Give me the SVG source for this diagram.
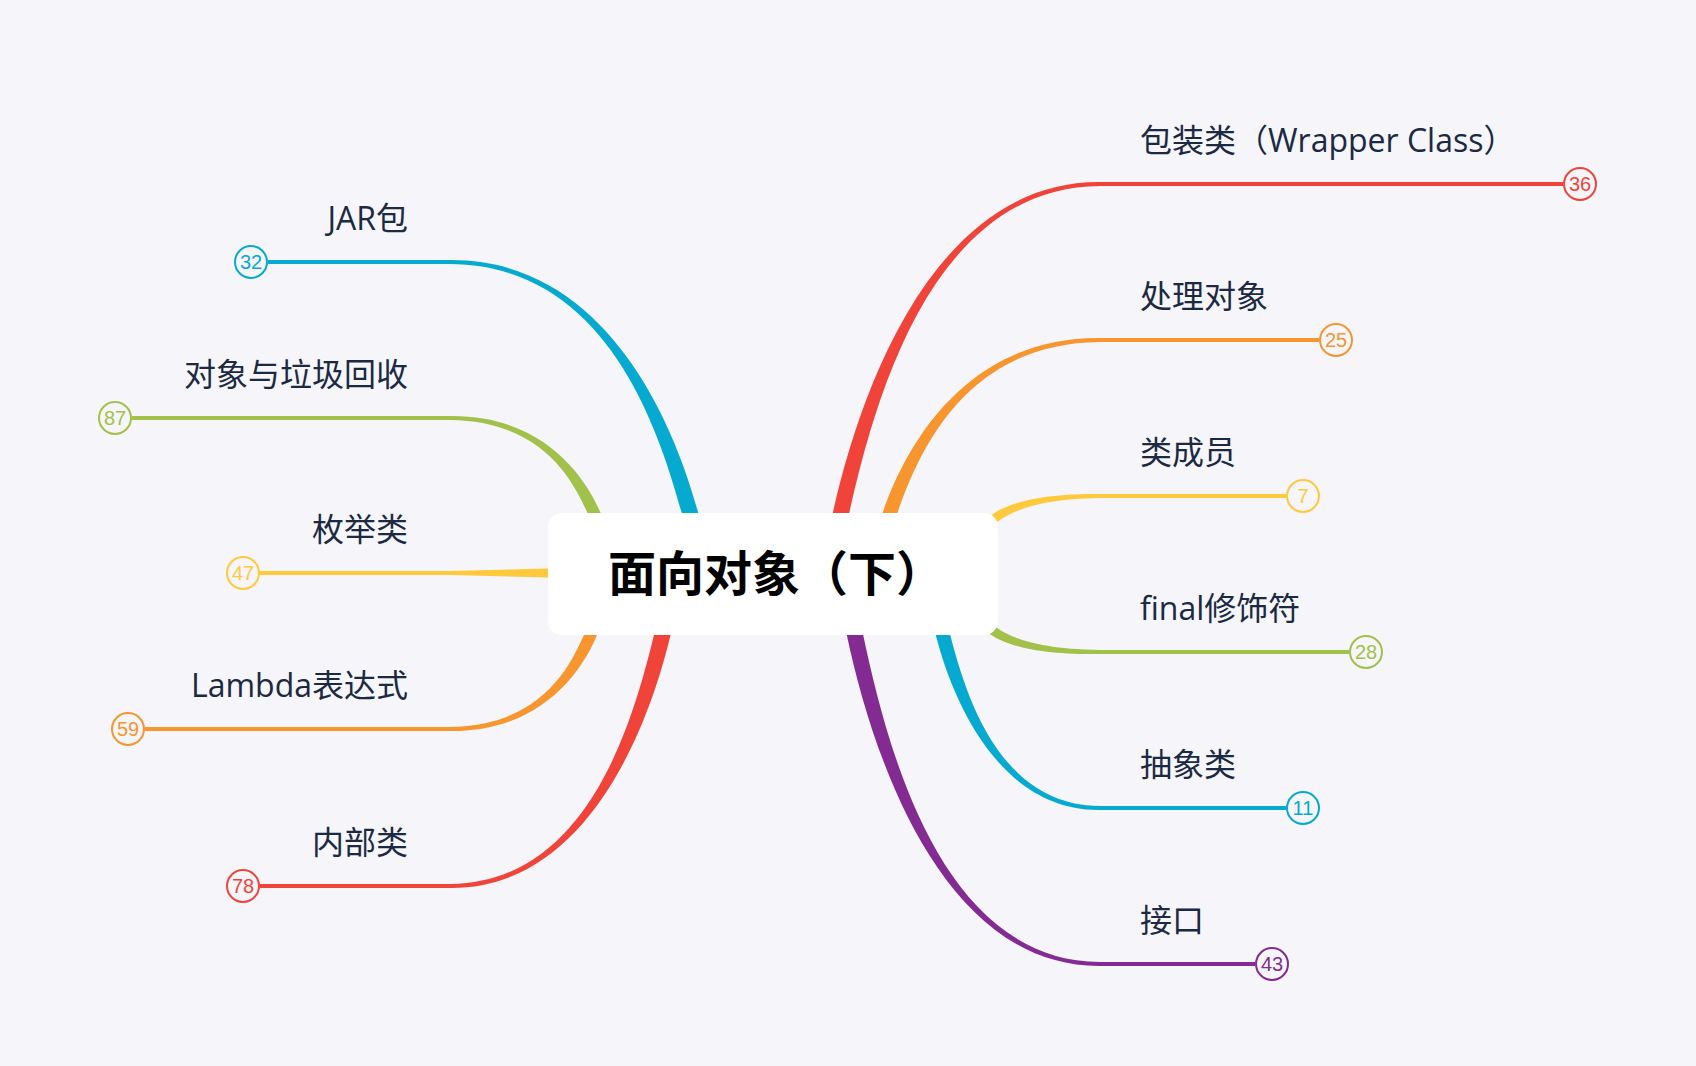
<svg xmlns="http://www.w3.org/2000/svg" width="1696" height="1066" viewBox="0 0 1696 1066">
<style>
.lbl{font-family:"Open Sans","Noto Sans CJK SC",sans-serif;font-size:32px;fill:#1b2a42}
.num{font-family:"Liberation Sans",Arial,sans-serif;font-size:20px;text-anchor:middle}
.ln{stroke-width:4;fill:none}
.cir{stroke-width:2;fill:#f5f5fa}
.red{fill:#f0443a}.orange{fill:#f7952f}.yellow{fill:#fec93b}.green{fill:#a1c14a}.blue{fill:#06aad0}.purple{fill:#832b93}
.sred{stroke:#f0443a}.sorange{stroke:#f7952f}.syellow{stroke:#fec93b}.sgreen{stroke:#a1c14a}.sblue{stroke:#06aad0}.spurple{stroke:#832b93}
</style>
<rect x="0" y="0" width="1696" height="1066" fill="#f5f5fa"/>
<g id="connectors">
<path class="red" d="M845.3,530.4 L848.8,514.8 C874.7,399.6 931.7,187 1100,186 L1100,182 C931.7,181 859.1,396.1 833.2,511.2 L829.7,526.9 Z"/>
<path class="orange" d="M891.4,530.4 L896.6,515.3 C917.6,454.7 963.5,343 1100,342 L1100,338 C963.5,337 904.4,450.2 883.4,510.7 L878.2,525.8 Z"/>
<path class="yellow" d="M984.8,531.1 L997.7,521.6 C1008.2,513.9 1031.8,499 1100,498 L1100,494 C1031.8,493 1002.8,506.7 992.3,514.4 L979.4,523.8 Z"/>
<path class="green" d="M979.2,626.9 L992.5,635.7 C1003,642.7 1031.8,655 1100,654 L1100,650 C1031.8,649 1008,635.3 997.5,628.3 L984.2,619.4 Z"/>
<path class="blue" d="M932.2,621.3 L936.2,636.8 C951.9,697.3 998,811 1100,810 L1100,806 C998,805 965.5,693.8 949.8,633.2 L945.8,617.8 Z"/>
<path class="purple" d="M843.9,621 L847.2,636.7 C871.7,751.8 940.8,967 1100,966 L1100,962 C940.8,961 887.3,748.5 862.8,633.3 L859.5,617.7 Z"/>
<path class="blue" d="M701.9,526.3 L697.7,510.9 C673.7,423 606,259 450,260 L450,264 C606,265 658.3,427.3 682.3,515.1 L686.5,530.6 Z"/>
<path class="green" d="M605.9,525.3 L599.5,510.6 C585.1,477.4 543.6,415 450,416 L450,420 C543.6,421 574.1,482.1 588.5,515.4 L594.9,530.1 Z"/>
<path class="yellow" d="M450,571 L548,568.6 L562,568.6 L562,577.4 L548,577.4 L450,575 Z"/>
<path class="orange" d="M590.8,618.9 L584.5,633.6 C570.5,666.2 541,726 450,727 L450,731 C541,732 581.5,670.9 595.5,638.4 L601.8,623.7 Z"/>
<path class="red" d="M658,618.6 L654.2,634.1 C633,721.6 587.8,883 450,884 L450,888 C587.8,889 648.6,725.4 669.8,637.9 L673.6,622.3 Z"/>
<line class="ln sred" x1="1099" y1="184" x2="1563" y2="184"/>
<line class="ln sorange" x1="1099" y1="340" x2="1319" y2="340"/>
<line class="ln syellow" x1="1099" y1="496" x2="1286" y2="496"/>
<line class="ln sgreen" x1="1099" y1="652" x2="1349" y2="652"/>
<line class="ln sblue" x1="1099" y1="808" x2="1286" y2="808"/>
<line class="ln spurple" x1="1099" y1="964" x2="1255" y2="964"/>
<line class="ln sblue" x1="268" y1="262" x2="451" y2="262"/>
<line class="ln sgreen" x1="132" y1="418" x2="451" y2="418"/>
<line class="ln syellow" x1="260" y1="573" x2="451" y2="573"/>
<line class="ln sorange" x1="145" y1="729" x2="451" y2="729"/>
<line class="ln sred" x1="260" y1="886" x2="451" y2="886"/>
</g>
<g id="root">
<rect x="548" y="513" width="450" height="122" rx="14" fill="#ffffff"/>
<text x="608" y="591" font-family="'Noto Sans CJK SC',sans-serif" font-size="48" font-weight="bold" fill="#000">面向对象（下）</text>
</g>
<g id="n-wrapper">
<text class="lbl" x="1140" y="152">包装类（Wrapper Class）</text>
<circle class="cir sred" cx="1580" cy="184" r="16"/>
<text class="num red" x="1580" y="191">36</text>
</g>
<g id="n-process">
<text class="lbl" x="1140" y="308">处理对象</text>
<circle class="cir sorange" cx="1336" cy="340" r="16"/>
<text class="num orange" x="1336" y="347">25</text>
</g>
<g id="n-member">
<text class="lbl" x="1140" y="464">类成员</text>
<circle class="cir syellow" cx="1303" cy="496" r="16"/>
<text class="num yellow" x="1303" y="503">7</text>
</g>
<g id="n-final">
<text class="lbl" x="1140" y="620">final修饰符</text>
<circle class="cir sgreen" cx="1366" cy="652" r="16"/>
<text class="num green" x="1366" y="659">28</text>
</g>
<g id="n-abstract">
<text class="lbl" x="1140" y="776">抽象类</text>
<circle class="cir sblue" cx="1303" cy="808" r="16"/>
<text class="num blue" x="1303" y="815">11</text>
</g>
<g id="n-interface">
<text class="lbl" x="1140" y="932">接口</text>
<circle class="cir spurple" cx="1272" cy="964" r="16"/>
<text class="num purple" x="1272" y="971">43</text>
</g>
<g id="n-jar">
<text class="lbl" x="408" y="230" text-anchor="end">JAR包</text>
<circle class="cir sblue" cx="251" cy="262" r="16"/>
<text class="num blue" x="251" y="269">32</text>
</g>
<g id="n-gc">
<text class="lbl" x="408" y="386" text-anchor="end">对象与垃圾回收</text>
<circle class="cir sgreen" cx="115" cy="418" r="16"/>
<text class="num green" x="115" y="425">87</text>
</g>
<g id="n-enum">
<text class="lbl" x="408" y="541" text-anchor="end">枚举类</text>
<circle class="cir syellow" cx="243" cy="573" r="16"/>
<text class="num yellow" x="243" y="580">47</text>
</g>
<g id="n-lambda">
<text class="lbl" x="408" y="697" text-anchor="end">Lambda表达式</text>
<circle class="cir sorange" cx="128" cy="729" r="16"/>
<text class="num orange" x="128" y="736">59</text>
</g>
<g id="n-inner">
<text class="lbl" x="408" y="854" text-anchor="end">内部类</text>
<circle class="cir sred" cx="243" cy="886" r="16"/>
<text class="num red" x="243" y="893">78</text>
</g>
</svg>
